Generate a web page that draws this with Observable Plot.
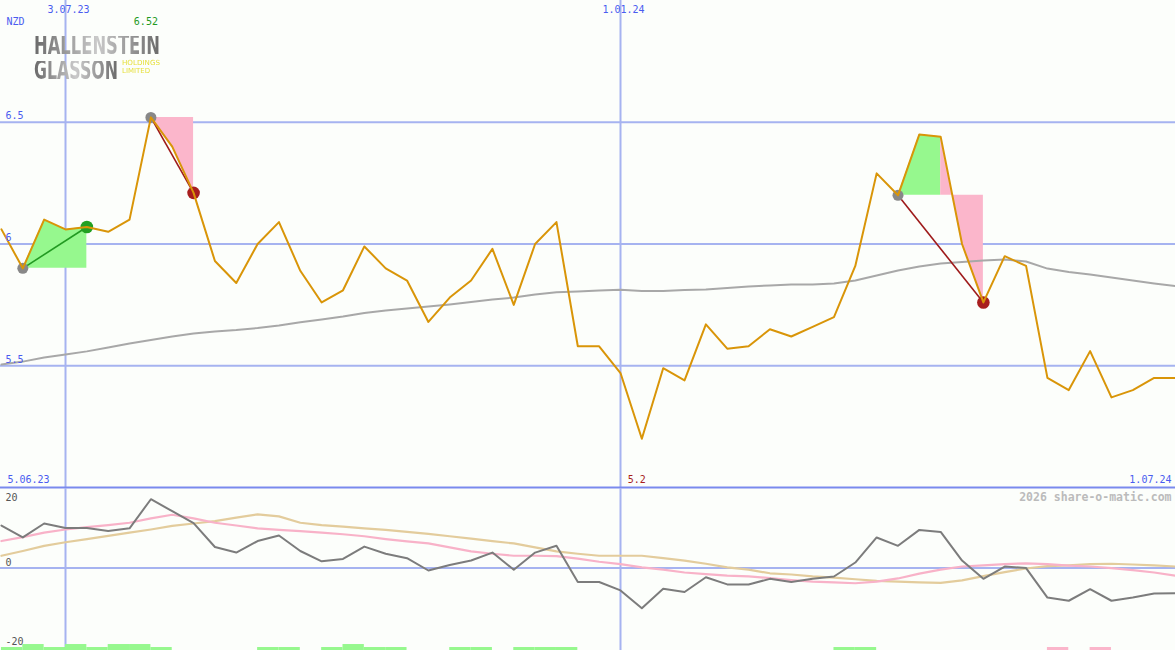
<!DOCTYPE html>
<html><head><meta charset="utf-8">
<script src="https://cdn.jsdelivr.net/npm/d3@7"></script>
<script src="https://cdn.jsdelivr.net/npm/@observablehq/plot@0.6"></script>
<style>
html,body{margin:0;padding:0;background:#fcfefb;}
#wrap{position:relative;width:1175px;height:650px;overflow:hidden;background:#fcfefb;}
#wrap > svg, #wrap > figure{display:block;margin:0;}
.logo{position:absolute;display:inline-block;white-space:nowrap;transform-origin:0 0;}
.big{font-family:"DejaVu Sans Condensed","DejaVu Sans",sans-serif;font-weight:bold;font-size:26px;line-height:19px;height:19px;
  background:linear-gradient(90deg,#6a6a6a,#cacaca,#6a6a6a);-webkit-background-clip:text;background-clip:text;color:transparent;}
.small{font-family:"DejaVu Sans",sans-serif;font-size:7px;line-height:7px;height:7px;color:#e6df3a;}
</style></head><body><div id="wrap"></div>
<script>
// ---- data ----
const weeks = ["2023-06-12","2023-06-19","2023-06-26","2023-07-03","2023-07-10","2023-07-17","2023-07-24","2023-07-31",
"2023-08-07","2023-08-14","2023-08-21","2023-08-28","2023-09-04","2023-09-11","2023-09-18","2023-09-25",
"2023-10-02","2023-10-09","2023-10-16","2023-10-23","2023-10-30","2023-11-06","2023-11-13","2023-11-20","2023-11-27",
"2023-12-04","2023-12-11","2023-12-18","2023-12-25","2024-01-01","2024-01-08","2024-01-15","2024-01-22","2024-01-29",
"2024-02-05","2024-02-12","2024-02-19","2024-02-26","2024-03-04","2024-03-11","2024-03-18","2024-03-25",
"2024-04-01","2024-04-08","2024-04-15","2024-04-22","2024-04-29","2024-05-06","2024-05-13","2024-05-20","2024-05-27",
"2024-06-03","2024-06-10","2024-06-17","2024-06-24","2024-07-01"];
const price = [6.06,5.90,6.10,6.06,6.07,6.05,6.10,6.52,6.40,6.21,5.93,5.84,6.00,6.09,5.89,5.76,5.81,5.99,5.90,
5.85,5.68,5.78,5.85,5.98,5.75,6.00,6.09,5.58,5.58,5.47,5.20,5.49,5.44,5.67,5.57,5.58,5.65,5.62,5.66,5.70,5.91,
6.29,6.20,6.45,6.44,6.00,5.76,5.95,5.91,5.45,5.40,5.56,5.37,5.40,5.45,5.45];
const movingAvg = [5.505,5.517,5.534,5.546,5.559,5.575,5.591,5.606,5.620,5.632,5.641,5.647,5.655,5.665,5.679,5.690,
5.702,5.717,5.727,5.735,5.743,5.752,5.762,5.772,5.780,5.793,5.802,5.805,5.809,5.812,5.807,5.807,5.811,5.813,5.819,
5.825,5.830,5.834,5.834,5.838,5.850,5.871,5.891,5.908,5.920,5.926,5.932,5.936,5.928,5.899,5.885,5.875,5.862,5.850,5.838,5.827];
const oscGrey = [10.7,7.7,11.2,10.1,10.1,9.3,10.0,17.3,14.3,11.3,5.3,3.9,6.8,8.2,4.3,1.7,2.3,5.4,3.6,
2.5,-0.6,0.8,1.9,3.9,-0.4,3.9,5.6,-3.5,-3.5,-5.6,-10.1,-5.2,-6.0,-2.3,-4.1,-4.1,-2.7,
-3.5,-2.7,-2.1,1.4,7.7,5.6,9.6,9.1,1.9,-2.7,0.4,0.0,-7.4,-8.2,-5.3,-8.2,-7.4,-6.4,-6.3];
const oscPink = [6.8,7.8,8.9,9.7,10.3,10.8,11.4,12.5,13.4,12.5,11.4,10.7,10.0,9.6,9.3,8.9,8.5,8.0,7.3,
6.7,6.2,5.2,4.2,3.6,3.1,3.1,3.0,2.4,1.6,1.0,0.2,-0.4,-1.1,-1.5,-1.9,-2.1,-2.5,
-3.0,-3.4,-3.6,-3.8,-3.4,-2.6,-1.4,-0.4,0.4,0.7,1.0,1.2,1.0,0.6,0.4,0.0,-0.5,-1.1,-1.9];
const oscTan = [3.1,4.3,5.6,6.5,7.3,8.1,8.9,9.7,10.6,11.2,11.8,12.7,13.5,13.0,11.4,10.8,10.4,10.0,9.6,
9.1,8.6,8.0,7.4,6.8,6.2,5.2,4.2,3.6,3.1,3.1,3.1,2.5,1.9,1.1,0.2,-0.4,-1.3,
-1.6,-2.1,-2.4,-2.8,-3.2,-3.4,-3.6,-3.7,-3.1,-2.0,-1.0,-0.1,0.5,0.7,1.0,1.1,0.9,0.7,0.4];
const signalBars = [1,2,1,2,1,2,2,1,0,0,0,0,1,1,0,1,2,1,1,0,0,1,1,0,1,1,1,0,0,0,0,0,0,0,0,0,0,0,0,1,1,
0,0,0,0,0,0,0,0,-1,0,-1,0,0,0,0];

const zoneStart = ["2023-06-19","2023-07-31","2024-04-01","2024-04-15"];
const zoneEnd   = ["2023-07-10","2023-08-14","2024-04-15","2024-04-29"];
const zoneLevel = [5.90, 6.52, 6.20, 6.20];
const zoneKind  = ["up","down","up","down"];

const tradeStart = ["2023-06-19","2023-07-31","2024-04-01"];
const tradeEnd   = ["2023-07-10","2023-08-14","2024-04-29"];
const tradeKind  = ["up","down","down"];

const priceTicks = [5.5, 6, 6.5];
const priceTickLabels = ["5.5","6","6.5"];
const gridDates = ["2023-07-03","2024-01-01"];
const gridDateLabels = ["3.07.23","1.01.24"];
const oscTicks = [20, 0, -20];
const currency = "NZD";
const firstLabel = "5.06.23";
const lastLabel = "1.07.24";
const credit = "2026 share-o-matic.com";
const logoWords = ["HALLENSTEIN","GLASSON","HOLDINGS","LIMITED"];

// ---- build tables ----
const table = weeks.map((w,i)=>({date:new Date(w), price:price[i], avg:movingAvg[i],
  grey:oscGrey[i], pink:oscPink[i], tan:oscTan[i], bar:signalBars[i],
  next:new Date(weeks[i+1] || "2024-07-08")}));
const byDate = new Map(table.map(d=>[+d.date, d]));
const zoneRows = [];
zoneStart.forEach((s,z)=>{
  const a = new Date(s), b = new Date(zoneEnd[z]);
  table.filter(d=>d.date>=a && d.date<=b).forEach(d=>zoneRows.push({date:d.date, price:d.price, level:zoneLevel[z], kind:zoneKind[z], zone:z}));
});
const trades = tradeStart.map((s,i)=>{
  const a = byDate.get(+new Date(s)), b = byDate.get(+new Date(tradeEnd[i]));
  return {d1:a.date, p1:a.price, d2:b.date, p2:b.price, kind:tradeKind[i]};
});
const hi = d3.greatest(table, d=>d.price);
const lo = d3.least(table, d=>d.price);
const fmt = v => String(+v.toFixed(2));
const BASE = -20.7, UNIT = 0.75;
const barRows = table.filter(d=>d.bar!==0).map(d=>({x1:d.date, x2:d.next, y1:BASE, y2:BASE+Math.abs(d.bar)*UNIT, up:d.bar>0}));

// ---- styling ----
const GRID = "#a6b3f0", SEP = "#7a8aee", BLUE = "#4a5cf0";
const xScale = {type:"utc", domain:[new Date(Date.UTC(2023,5,11,16,26)), new Date(Date.UTC(2024,6,1))], range:[0,1175], axis:null};
const font = {background:"transparent", fontFamily:"DejaVu Sans Mono", fontSize:"10px", overflow:"visible"};
const gridRows = gridDates.map((d,i)=>({date:new Date(d), label:gridDateLabels[i]}));
const tickRows = priceTicks.map((v,i)=>({v, label:priceTickLabels[i]}));

const main = Plot.plot({
  width:1175, height:488, marginTop:0, marginLeft:0, marginRight:0, marginBottom:1,
  x:xScale, y:{domain:[5,7], range:[487,0], axis:null}, style:font,
  marks:[
    Plot.ruleY(priceTicks, {stroke:GRID, strokeWidth:2}),
    Plot.ruleX(gridRows, {x:"date", stroke:GRID, strokeWidth:2}),
    Plot.ruleY([5], {stroke:SEP, strokeWidth:2}),
    Plot.areaY(zoneRows.filter(d=>d.kind==="up"), {x:"date", y1:"level", y2:"price", z:"zone", fill:"#96f88e"}),
    Plot.areaY(zoneRows.filter(d=>d.kind==="down"), {x:"date", y1:"level", y2:"price", z:"zone", fill:"#fbb6cb"}),
    Plot.line(table, {x:"date", y:"avg", stroke:"#a8a8a8", strokeWidth:2}),
    Plot.link(trades, {x1:"d1", y1:"p1", x2:"d2", y2:"p2", stroke:d=>d.kind==="up"?"#229a22":"#9e1a1a", strokeWidth:1.6}),
    Plot.dot(trades, {x:"d1", y:"p1", r:5.5, fill:"#888888"}),
    Plot.dot(trades, {x:"d2", y:"p2", r:6.3, fill:d=>d.kind==="up"?"#22a022":"#a81e1e"}),
    Plot.line(table, {x:"date", y:"price", stroke:"#d99508", strokeWidth:2}),
    Plot.text(tickRows, {y:"v", text:"label", frameAnchor:"left", textAnchor:"start", dx:5, dy:-6, fill:BLUE}),
    Plot.text(gridRows, {x:"date", text:"label", frameAnchor:"top", lineAnchor:"middle", dy:9, dx:3, fill:BLUE}),
    Plot.text([currency], {text:d=>d, frameAnchor:"top-left", textAnchor:"start", lineAnchor:"middle", dx:6, dy:21, fill:BLUE}),
    Plot.text([hi], {x:"date", text:d=>fmt(d.price), frameAnchor:"top", lineAnchor:"middle", dy:21, dx:-5, fill:"#1f9a1f"}),
    Plot.text([firstLabel], {text:d=>d, frameAnchor:"bottom-left", textAnchor:"start", lineAnchor:"middle", dx:7, dy:-8, fill:BLUE}),
    Plot.text([lastLabel], {text:d=>d, frameAnchor:"bottom-right", textAnchor:"end", lineAnchor:"middle", dx:-4, dy:-8, fill:BLUE}),
    Plot.text([lo], {x:"date", text:d=>fmt(d.price), frameAnchor:"bottom", lineAnchor:"middle", dy:-8, dx:-5, fill:"#a81e1e"})
  ]
});

const lower = Plot.plot({
  width:1175, height:162, marginTop:0, marginLeft:0, marginRight:0, marginBottom:0,
  x:xScale, y:{domain:[BASE,20], range:[162,0], axis:null}, style:font,
  marks:[
    Plot.ruleY([0], {stroke:GRID, strokeWidth:2}),
    Plot.ruleX(gridRows, {x:"date", stroke:GRID, strokeWidth:2}),
    Plot.rect(barRows, {x1:"x1", x2:"x2", y1:"y1", y2:"y2", fill:d=>d.up?"#96f88e":"#fbb6cb"}),
    Plot.line(table, {x:"date", y:"tan", stroke:"#e3cc9c", strokeWidth:2.2}),
    Plot.line(table, {x:"date", y:"pink", stroke:"#f8b2c8", strokeWidth:2.2}),
    Plot.line(table, {x:"date", y:"grey", stroke:"#7c7c7c", strokeWidth:2}),
    Plot.text([oscTicks[0]], {y:d=>d, text:d=>String(d), frameAnchor:"left", textAnchor:"start", lineAnchor:"middle", dx:5, dy:9, fill:"#555"}),
    Plot.text(oscTicks.slice(1), {y:d=>d, text:d=>String(d), frameAnchor:"left", textAnchor:"start", lineAnchor:"middle", dx:5, dy:-5.5, fill:"#555"}),
    Plot.text([credit], {text:d=>d, frameAnchor:"top-right", textAnchor:"end", lineAnchor:"middle", dx:-4, dy:8.5, fill:"#bbbbbb", fontWeight:"bold", fontSize:11.5})
  ]
});

const wrap = document.getElementById("wrap");
wrap.appendChild(main);
wrap.appendChild(lower);

// logo as real HTML text, each word stretched to its width in the picture
const logoPlace = [
  {cls:"big", left:34, top:36, width:126},
  {cls:"big", left:34, top:60.5, width:84},
  {cls:"small", left:122, top:59.6, width:38},
  {cls:"small", left:122, top:68.1, width:28}
];
logoWords.forEach((w,i)=>{
  const p = logoPlace[i];
  const el = document.createElement("div");
  el.className = "logo " + p.cls;
  el.textContent = w;
  el.style.left = p.left + "px";
  el.style.top = p.top + "px";
  wrap.appendChild(el);
  const natural = el.getBoundingClientRect().width;
  el.style.transform = `scaleX(${p.width / natural})`;
});
</script>
</body></html>
